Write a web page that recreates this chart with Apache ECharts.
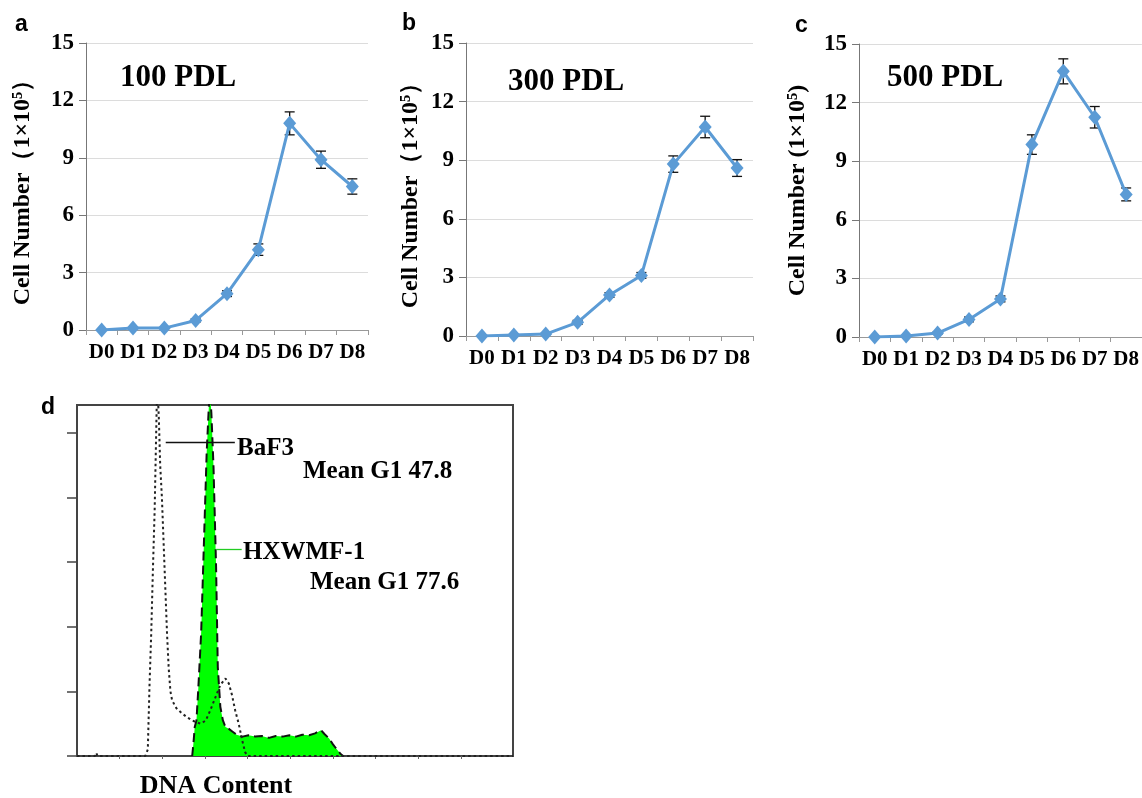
<!DOCTYPE html>
<html>
<head>
<meta charset="utf-8">
<script src="https://cdn.jsdelivr.net/npm/echarts@6/dist/echarts.min.js"></script>
<style>
  html, body { margin: 0; padding: 0; background: #fff; }
  #main { width: 1142px; height: 798px; }
</style>
</head>
<body>
<div id="main"></div>
<script>
// growth curves (cell number, 1x10^5)
const days = ["D0", "D1", "D2", "D3", "D4", "D5", "D6", "D7", "D8"];
const pdl100 = [0, 0.1, 0.1, 0.5, 1.9, 4.2, 10.8, 8.9, 7.5];
const err100 = [0, 0.02, 0.02, 0.08, 0.15, 0.3, 0.6, 0.45, 0.4];
const pdl300 = [0, 0.05, 0.1, 0.7, 2.1, 3.1, 8.8, 10.7, 8.6];
const err300 = [0, 0.02, 0.03, 0.1, 0.12, 0.15, 0.42, 0.55, 0.43];
const pdl500 = [0, 0.05, 0.2, 0.9, 1.95, 9.85, 13.6, 11.25, 7.3];
const err500 = [0, 0.02, 0.05, 0.12, 0.15, 0.5, 0.64, 0.55, 0.33];

// DNA histogram (channel, count)
const baf3X = [0, 0.42, 0.45, 0.48, 1.6, 1.66, 1.7, 1.74, 1.78, 1.82, 1.85, 1.88, 1.92, 1.95, 1.99, 2.03, 2.07, 2.11, 2.15, 2.19, 2.23, 2.33, 2.46, 2.58, 2.7, 2.8, 2.9, 3.02, 3.12, 3.24, 3.36, 3.48, 3.56, 3.63, 3.71, 3.79, 3.87, 3.94, 4.0, 10.22];
const baf3Y = [0, 0, 0.05, 0, 0, 0.1, 1.1, 1.9, 2.9, 3.8, 4.8, 5.8, 5.2, 4.5, 4.0, 3.3, 2.6, 1.9, 1.35, 1.0, 0.86, 0.74, 0.66, 0.6, 0.55, 0.52, 0.5, 0.55, 0.7, 0.9, 1.1, 1.2, 1.12, 0.95, 0.7, 0.5, 0.25, 0.06, 0, 0];
const hxX = [2.7, 2.73, 2.76, 2.8, 2.84, 2.91, 2.98, 3.04, 3.09, 3.12, 3.15, 3.2, 3.26, 3.3, 3.36, 3.42, 3.48, 3.56, 3.64, 3.74, 3.88, 4.02, 4.18, 4.33, 4.5, 4.66, 4.82, 4.98, 5.13, 5.28, 5.44, 5.58, 5.72, 5.8, 5.91, 6.0, 6.07, 6.18, 6.24];
const hxY = [0, 0.2, 0.45, 0.55, 1.0, 1.9, 3.4, 4.7, 5.4, 5.6, 5.3, 4.47, 2.93, 1.38, 0.76, 0.55, 0.45, 0.42, 0.38, 0.33, 0.3, 0.32, 0.3, 0.31, 0.28, 0.31, 0.3, 0.32, 0.3, 0.33, 0.32, 0.35, 0.4, 0.34, 0.27, 0.18, 0.12, 0.03, 0];

const serif = "'Liberation Serif', 'Times New Roman', serif";
const sans = "'Liberation Sans', Arial, sans-serif";
const blue = "#5b9bd5";

let chart = echarts.init(document.getElementById("main"));

function errorItem(params, api) {
    let x = api.value(0);
    let y = api.value(1);
    let e = api.value(2);
    let hi = api.coord([x, y + e]);
    let lo = api.coord([x, y - e]);
    let w = 5;
    let st = { stroke: "#111", lineWidth: 1.3 };
    return {
        type: "group",
        children: [
            { type: "line", shape: { x1: hi[0], y1: hi[1], x2: lo[0], y2: lo[1] }, style: st },
            { type: "line", shape: { x1: hi[0] - w, y1: hi[1], x2: hi[0] + w, y2: hi[1] }, style: st },
            { type: "line", shape: { x1: lo[0] - w, y1: lo[1], x2: lo[0] + w, y2: lo[1] }, style: st },
        ],
    };
}

function catAxis(idx) {
    return {
        type: "category",
        gridIndex: idx,
        data: days,
        boundaryGap: true,
        axisLine: { show: true, lineStyle: { color: "#999", width: 1 } },
        axisTick: { show: true, length: 5, lineStyle: { color: "#999" } },
        axisLabel: { interval: 0, margin: 12, color: "#000", fontFamily: serif, fontWeight: "bold", fontSize: 21 },
    };
}

function valAxis(idx, name, gap) {
    return {
        type: "value",
        gridIndex: idx,
        min: 0,
        max: 15,
        interval: 3,
        name: name,
        nameLocation: "middle",
        nameRotate: 90,
        nameGap: gap,
        nameTextStyle: { color: "#000", fontFamily: serif, fontWeight: "bold", fontSize: 24 },
        axisLine: { show: true, lineStyle: { color: "#777", width: 1 } },
        axisTick: { show: true, length: 7, lineStyle: { color: "#777" } },
        axisLabel: { margin: 12, color: "#000", fontFamily: serif, fontWeight: "bold", fontSize: 23 },
        splitLine: { show: true, lineStyle: { color: "#dcdcdc", width: 1 } },
    };
}

function growthSeries(idx, vals, errs) {
    return [
        {
            type: "custom",
            xAxisIndex: idx,
            yAxisIndex: idx,
            renderItem: errorItem,
            data: days.map((d, i) => [i, vals[i], errs[i]]),
            z: 2,
        },
        {
            type: "line",
            xAxisIndex: idx,
            yAxisIndex: idx,
            data: vals,
            symbol: "diamond",
            symbolSize: [13, 15],
            lineStyle: { color: blue, width: 3 },
            itemStyle: { color: blue },
            z: 3,
        },
    ];
}

function label(text, x, y, size, font, align) {
    return {
        type: "text",
        x: x,
        y: y,
        style: {
            text: text,
            fill: "#000",
            font: "bold " + size + "px " + font,
            align: align || "left",
            verticalAlign: "middle",
        },
    };
}

let option = {
    animation: false,
    backgroundColor: "#fff",
    grid: [
        { left: 86, top: 43, width: 282, height: 287 },
        { left: 466, top: 43, width: 287, height: 293 },
        { left: 859, top: 44, width: 283, height: 293 },
        { left: 77, top: 405, width: 436, height: 351, show: true, borderColor: "#444", borderWidth: 2 },
    ],
    xAxis: [
        catAxis(0),
        catAxis(1),
        catAxis(2),
        {
            type: "value",
            gridIndex: 3,
            min: 0,
            max: 10.22,
            interval: 1,
            axisLine: { show: true, lineStyle: { color: "#444", width: 2 } },
            axisTick: { show: true, length: 3, customValues: [1, 2, 3, 4, 5, 6, 7, 8, 9], lineStyle: { color: "#666" } },
            axisLabel: { show: false },
            splitLine: { show: false },
        },
    ],
    yAxis: [
        valAxis(0, "Cell Number（1×10⁵）", 51),
        valAxis(1, "Cell Number（1×10⁵）", 43),
        valAxis(2, "Cell Number (1×10⁵)", 49),
        {
            type: "value",
            gridIndex: 3,
            min: 0,
            max: 5.43,
            interval: 1,
            axisLine: { show: true, lineStyle: { color: "#444", width: 2 } },
            axisTick: { show: true, length: 10, customValues: [0, 1, 2, 3, 4, 5], lineStyle: { color: "#444", width: 1.5 } },
            axisLabel: { show: false },
            splitLine: { show: false },
        },
    ],
    series: [
        ...growthSeries(0, pdl100, err100),
        ...growthSeries(1, pdl300, err300),
        ...growthSeries(2, pdl500, err500),
        {
            name: "HXWMF-1",
            type: "line",
            xAxisIndex: 3,
            yAxisIndex: 3,
            data: hxX.map((x, i) => [x, hxY[i]]),
            symbol: "none",
            lineStyle: { color: "#111", width: 2, type: [9, 5] },
            areaStyle: { color: "#00ff00", opacity: 1 },
            markLine: {
                silent: true,
                symbol: "none",
                label: { show: false },
                lineStyle: { color: "#22cc22", width: 1.3, type: "solid" },
                data: [[{ coord: [3.26, 3.2] }, { coord: [3.86, 3.2] }]],
            },
            z: 2,
        },
        {
            name: "BaF3",
            type: "line",
            xAxisIndex: 3,
            yAxisIndex: 3,
            data: baf3X.map((x, i) => [x, baf3Y[i]]),
            symbol: "none",
            lineStyle: { color: "#222", width: 2, type: [2.5, 3] },
            markLine: {
                silent: true,
                symbol: "none",
                label: { show: false },
                lineStyle: { color: "#111", width: 1.3, type: "solid" },
                data: [[{ coord: [2.08, 4.86] }, { coord: [3.7, 4.86] }]],
            },
            z: 3,
        },
    ],
    graphic: [
        label("a", 15, 25, 23, sans),
        label("b", 402, 24, 23, sans),
        label("c", 795, 26, 23, sans),
        label("d", 41, 408, 23, sans),
        label("100 PDL", 120, 78, 31, serif),
        label("300 PDL", 508, 82, 31, serif),
        label("500 PDL", 887, 78, 31, serif),
        label("BaF3", 237, 449, 25, serif),
        label("Mean G1 47.8", 303, 472, 25, serif),
        label("HXWMF-1", 243, 553, 25, serif),
        label("Mean G1 77.6", 310, 583, 25, serif),
        label("DNA Content", 216, 786, 26, serif, "center"),
    ],
};

chart.setOption(option);
</script>
</body>
</html>
